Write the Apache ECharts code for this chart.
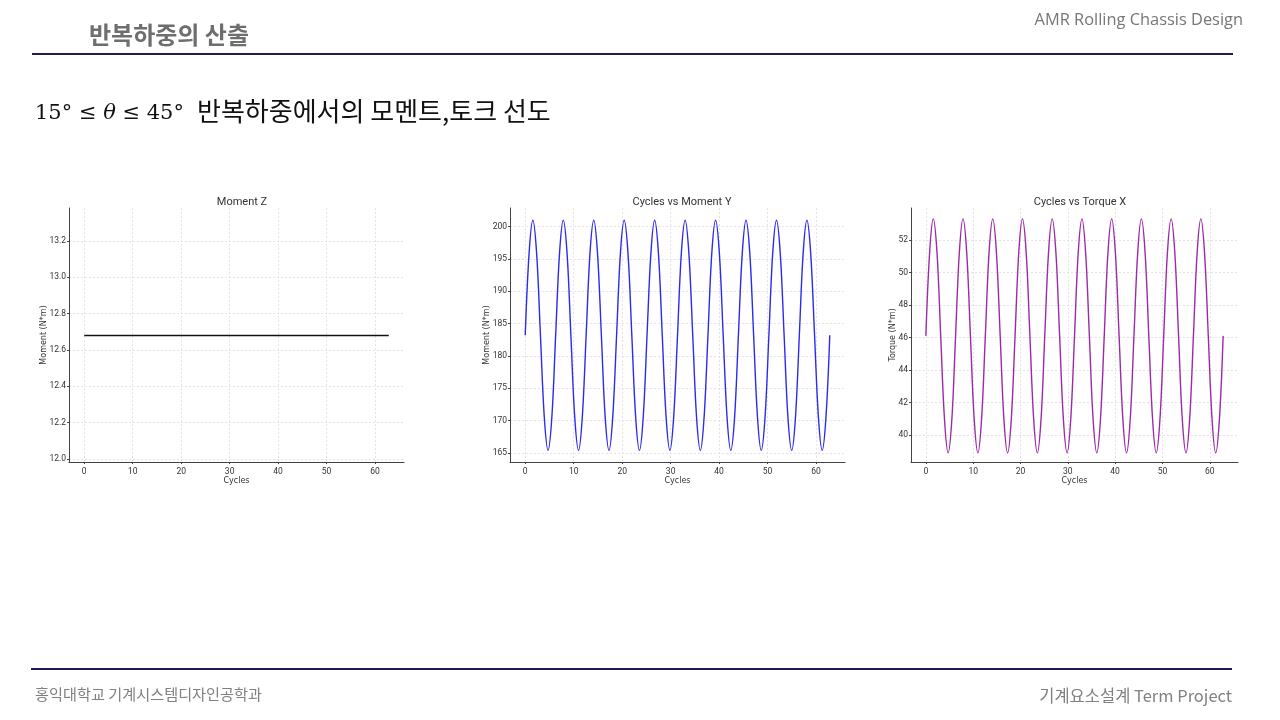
<!DOCTYPE html>
<html>
<head>
<meta charset="utf-8">
<script src="https://cdn.jsdelivr.net/npm/echarts@6/dist/echarts.min.js"></script>
<style>
html,body{margin:0;padding:0;background:#fff;}
#main{width:1280px;height:720px;}
</style>
</head>
<body>
<div id="main"></div>
<script>
// ---- data ----
var cycles = [0, 0.79, 1.57, 2.36, 3.14, 3.93, 4.71, 5.50, 6.28, 7.07, 7.85, 8.64, 9.42, 10.21, 11.00, 11.78,
  12.57, 13.35, 14.14, 14.92, 15.71, 16.49, 17.28, 18.06, 18.85, 19.63, 20.42, 21.21, 21.99, 22.78, 23.56, 24.35,
  25.13, 25.92, 26.70, 27.49, 28.27, 29.06, 29.85, 30.63, 31.42, 32.20, 32.99, 33.77, 34.56, 35.34, 36.13, 36.91,
  37.70, 38.48, 39.27, 40.06, 40.84, 41.63, 42.41, 43.20, 43.98, 44.77, 45.55, 46.34, 47.12, 47.91, 48.69, 49.48,
  50.27, 51.05, 51.84, 52.62, 53.41, 54.19, 54.98, 55.76, 56.55, 57.33, 58.12, 58.90, 59.69, 60.48, 61.26, 62.05, 62.83];

var momentZCycles = [0, 62.83];
var momentZ = [12.68, 12.68];

var momentY = [183.2, 195.8, 201.0, 195.8, 183.2, 170.6, 165.4, 170.6,
  183.2, 195.8, 201.0, 195.8, 183.2, 170.6, 165.4, 170.6,
  183.2, 195.8, 201.0, 195.8, 183.2, 170.6, 165.4, 170.6,
  183.2, 195.8, 201.0, 195.8, 183.2, 170.6, 165.4, 170.6,
  183.2, 195.8, 201.0, 195.8, 183.2, 170.6, 165.4, 170.6,
  183.2, 195.8, 201.0, 195.8, 183.2, 170.6, 165.4, 170.6,
  183.2, 195.8, 201.0, 195.8, 183.2, 170.6, 165.4, 170.6,
  183.2, 195.8, 201.0, 195.8, 183.2, 170.6, 165.4, 170.6,
  183.2, 195.8, 201.0, 195.8, 183.2, 170.6, 165.4, 170.6,
  183.2, 195.8, 201.0, 195.8, 183.2, 170.6, 165.4, 170.6,
  183.2];

var torqueX = [46.1, 51.2, 53.3, 51.2, 46.1, 41.0, 38.9, 41.0,
  46.1, 51.2, 53.3, 51.2, 46.1, 41.0, 38.9, 41.0,
  46.1, 51.2, 53.3, 51.2, 46.1, 41.0, 38.9, 41.0,
  46.1, 51.2, 53.3, 51.2, 46.1, 41.0, 38.9, 41.0,
  46.1, 51.2, 53.3, 51.2, 46.1, 41.0, 38.9, 41.0,
  46.1, 51.2, 53.3, 51.2, 46.1, 41.0, 38.9, 41.0,
  46.1, 51.2, 53.3, 51.2, 46.1, 41.0, 38.9, 41.0,
  46.1, 51.2, 53.3, 51.2, 46.1, 41.0, 38.9, 41.0,
  46.1, 51.2, 53.3, 51.2, 46.1, 41.0, 38.9, 41.0,
  46.1, 51.2, 53.3, 51.2, 46.1, 41.0, 38.9, 41.0,
  46.1];

var chartTitles = ['Moment Z', 'Cycles vs Moment Y', 'Cycles vs Torque X'];
var yNames = ['Moment (N*m)', 'Moment (N*m)', 'Torque (N*m)'];
var xName = 'Cycles';

function pairs(xs, ys) { return xs.map(function (x, i) { return [x, ys[i]]; }); }

var chart = echarts.init(document.getElementById('main'), null, { renderer: 'canvas' });

var labelFont = 'Roboto, DejaVu Sans, sans-serif';
var nameFont = 'DejaVu Sans, sans-serif';
var titleFont = 'Roboto, DejaVu Sans, sans-serif';
var gridCol = '#e4e4e4';
var T = 'rgba(0,0,0,0)';

function xAxisCfg(gi) {
  return {
    type: 'value', gridIndex: gi, min: -3.14, max: 65.97, splitNumber: 7,
    name: xName, nameLocation: 'middle', nameGap: 15, nameMoveOverlap: false,
    nameTextStyle: { fontSize: 8, color: '#333', fontFamily: nameFont },
    axisLine: { show: true, onZero: false, lineStyle: { color: '#444', width: 1 } },
    axisTick: { show: true, length: 2, lineStyle: { color: '#444' } },
    axisLabel: { fontSize: 8.5, color: '#333', fontFamily: labelFont, margin: 5, showMinLabel: false, showMaxLabel: false },
    splitLine: { show: true, lineStyle: { color: [T, gridCol, gridCol, gridCol, gridCol, gridCol, gridCol, gridCol, T], type: [2, 2], width: 1 } }
  };
}
function yAxisCfg(gi, min, max, splitNumber, nTicks, gap, dec) {
  var cols = [T];
  for (var i = 0; i < nTicks; i++) cols.push(gridCol);
  cols.push(T);
  return {
    type: 'value', gridIndex: gi, min: min, max: max, splitNumber: splitNumber,
    name: yNames[gi], nameLocation: 'middle', nameGap: gap, nameMoveOverlap: false,
    nameTextStyle: { fontSize: 8, color: '#333', fontFamily: nameFont },
    axisLine: { show: true, onZero: false, lineStyle: { color: '#444', width: 1 } },
    axisTick: { show: true, length: 2, lineStyle: { color: '#444' } },
    axisLabel: { fontSize: 8.5, color: '#333', fontFamily: labelFont, margin: 3, showMinLabel: false, showMaxLabel: false,
      formatter: function (v) { return dec ? v.toFixed(dec) : String(Math.round(v)); } },
    splitLine: { show: true, lineStyle: { color: cols, type: [2, 2], width: 1 } }
  };
}

var grids = [
  { left: 69, top: 208, width: 335, height: 254 },
  { left: 510, top: 208, width: 335, height: 254 },
  { left: 911, top: 208, width: 327, height: 254 }
];

var titleStyle = { fontSize: 11, fontWeight: 'normal', color: '#333', fontFamily: titleFont };

var option = {
  animation: false,
  backgroundColor: '#fff',
  title: [
    { text: chartTitles[0], left: 237, top: 192, textAlign: 'center', textStyle: titleStyle },
    { text: chartTitles[1], left: 677, top: 192, textAlign: 'center', textStyle: titleStyle },
    { text: chartTitles[2], left: 1075, top: 192, textAlign: 'center', textStyle: titleStyle }
  ],
  grid: grids,
  xAxis: [xAxisCfg(0), xAxisCfg(1), xAxisCfg(2)],
  yAxis: [
    yAxisCfg(0, 11.983, 13.382, 7, 7, 21, 1),
    yAxisCfg(1, 163.6, 202.9, 8, 8, 19, 0),
    yAxisCfg(2, 38.34, 53.97, 8, 7, 14, 0)
  ],
  series: [
    { type: 'line', xAxisIndex: 0, yAxisIndex: 0, data: pairs(momentZCycles, momentZ), showSymbol: false,
      lineStyle: { color: '#111', width: 1.4 } },
    { type: 'line', xAxisIndex: 1, yAxisIndex: 1, data: pairs(cycles, momentY), showSymbol: false, smooth: 0.35,
      lineStyle: { color: '#2a2af0', width: 1.4 } },
    { type: 'line', xAxisIndex: 2, yAxisIndex: 2, data: pairs(cycles, torqueX), showSymbol: false, smooth: 0.35,
      lineStyle: { color: '#9c2aa8', width: 1.4 } }
  ],
  graphic: [
    { type: 'text', left: 89, top: 23, style: { text: '반복하중의 산출', fontSize: 24, fontWeight: 'bold', fill: '#6e6e6e', fontFamily: 'Noto Sans CJK KR, sans-serif' } },
    { type: 'text', right: 37, top: 12, style: { text: 'AMR Rolling Chassis Design', fontSize: 16.4, fill: '#767676', fontFamily: 'Open Sans, Noto Sans, sans-serif' } },
    { type: 'rect', shape: { x: 32, y: 53, width: 1201, height: 2 }, style: { fill: '#1f1a57' } },
    { type: 'text', left: 35, top: 103, style: {
        text: '15° ≤ {i|θ} ≤ 45°', fontSize: 21, fill: '#111', fontFamily: 'DejaVu Serif, Liberation Serif, serif',
        rich: { i: { fontSize: 21, fontStyle: 'italic', fill: '#111', fontFamily: 'DejaVu Serif, Liberation Serif, serif' } } } },
    { type: 'text', left: 197, top: 98, style: { text: '반복하중에서의 모멘트,토크 선도', fontSize: 26, fill: '#111', fontFamily: 'Noto Sans CJK KR, sans-serif' } },
    { type: 'rect', shape: { x: 31, y: 668, width: 1201, height: 2 }, style: { fill: '#1f1a57' } },
    { type: 'text', left: 35, top: 687, style: { text: '홍익대학교 기계시스템디자인공학과', fontSize: 15.2, fill: '#808080', fontFamily: 'Noto Sans CJK KR, sans-serif' } },
    { type: 'text', right: 48, top: 687, style: { text: '기계요소설계 Term Project', fontSize: 16.5, fill: '#808080', fontFamily: 'Noto Sans CJK KR, sans-serif' } }
  ]
};
chart.setOption(option);
</script>
</body>
</html>
